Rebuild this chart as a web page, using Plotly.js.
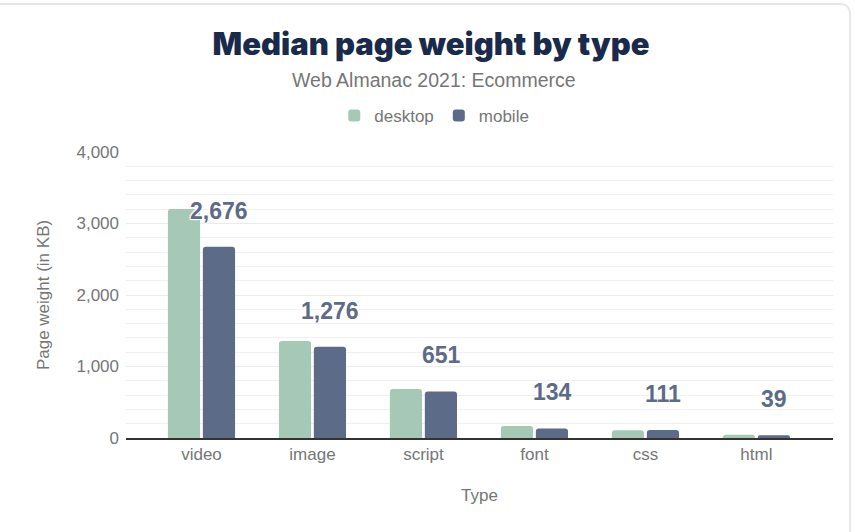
<!DOCTYPE html>
<html>
<head>
<meta charset="utf-8">
<script src="https://cdn.plot.ly/plotly-3.0.1.min.js"></script>
<style>
  html, body { margin: 0; padding: 0; background: #fff; overflow: hidden; }
  #card { position: absolute; left: -12px; top: 3px; width: 863px; height: 560px;
          border: 2px solid #e6e6e6; border-radius: 10px; box-sizing: border-box; }
  #chart { position: absolute; left: 0; top: 0; width: 855px; height: 532px; }
</style>
</head>
<body>
<div id="card"></div>
<div id="chart"></div>
<script>
const categories = ["video", "image", "script", "font", "css", "html"];
const desktopValues = [3203, 1356, 686, 168, 108, 46];
const mobileValues = [2676, 1276, 651, 134, 111, 39];
const mobileLabels = ["2,676", "1,276", "651", "134", "111", "39"];

const desktopColor = "#a6c8b7";
const mobileColor = "#5c6b87";
const grayText = "#767676";

const traces = [
  { type: "bar", name: "desktop", x: categories, y: desktopValues,
    marker: { color: desktopColor, cornerradius: 3 }, hoverinfo: "skip" },
  { type: "bar", name: "mobile", x: categories, y: mobileValues,
    marker: { color: mobileColor, cornerradius: 3 }, hoverinfo: "skip" }
];

const annotations = categories.map((c, i) => ({
  x: c, y: mobileValues[i], xref: "x", yref: "y",
  text: mobileLabels[i], showarrow: false,
  xshift: 18, yshift: 36, yanchor: "middle",
  font: { family: "Liberation Sans, Arial, sans-serif", size: 23, weight: 700, color: mobileColor,
          shadow: "1px 1px 1px #fff, -1px -1px 1px #fff, 1px -1px 1px #fff, -1px 1px 1px #fff" }
}));
annotations.push({
  xref: "paper", yref: "paper", x: 0.436, y: 1.252, xanchor: "center", yanchor: "middle",
  text: "Web Almanac 2021: Ecommerce", showarrow: false,
  font: { family: "Liberation Sans, Arial, sans-serif", size: 19.5, color: "#767676" }
});

const layout = {
  width: 855, height: 532,
  paper_bgcolor: "rgba(0,0,0,0)", plot_bgcolor: "#fff",
  margin: { l: 126, r: 22, t: 152, b: 94 },
  title: { text: "Median page weight by type", x: 431 / 855, xanchor: "center",
           y: 1 - 44 / 532, yanchor: "middle", yref: "container",
           font: { family: "Inter, Lato, DejaVu Sans, sans-serif", size: 31, weight: 900, color: "#1a2a4a" } },
  font: { family: "Liberation Sans, Arial, sans-serif", color: grayText },
  barmode: "group", bargap: 0.37, bargroupgap: 0.08,
  showlegend: true,
  legend: { orientation: "h", x: 0.436, xanchor: "center", y: 1.126, yanchor: "middle",
            font: { size: 17, color: grayText }, itemwidth: 30, traceorder: "normal" },
  xaxis: { type: "category", range: [-0.68, 5.69], showgrid: false,
           showline: true, linecolor: "#333", linewidth: 1.5,
           ticks: "", tickfont: { size: 17, color: grayText },
           title: { text: "Type", font: { size: 17, color: grayText }, standoff: 26 } },
  yaxis: { range: [0, 4000], dtick: 1000, tickformat: ",",
           showgrid: true, gridcolor: "#ebebeb", gridwidth: 1,
           minor: { dtick: 200, showgrid: true, gridcolor: "#f0f0f0", gridwidth: 1 },
           zeroline: false, showline: false, ticks: "",
           tickfont: { size: 17, color: grayText }, ticklabelstandoff: 6,
           title: { text: "Page weight (in KB)", font: { size: 17, color: grayText }, standoff: 22 } },
  annotations: annotations
};

Plotly.newPlot("chart", traces, layout, { displayModeBar: false, staticPlot: true });
</script>
</body>
</html>
